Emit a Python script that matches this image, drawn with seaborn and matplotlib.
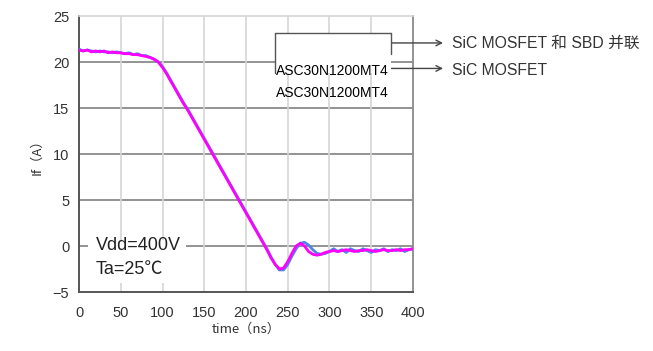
import matplotlib.pyplot as plt
import pandas as pd
import seaborn as sns
from matplotlib.patches import Rectangle

sns.set_style('white')
plt.rcParams['font.family'] = ['Liberation Sans', 'Noto Sans CJK SC', 'DejaVu Sans']

time_ns = list(range(0, 405, 5))

# SiC MOSFET + SBD in parallel (blue)
if_blue = [21.4, 21.2, 21.3, 21.2, 21.1, 21.2, 21.1, 21.1, 21.0, 21.1, 21.0, 20.9,
           21.0, 20.8, 20.9, 20.7, 20.7, 20.5, 20.3, 20.0, 19.5, 18.8, 18.0, 17.2,
           16.4, 15.6, 14.9, 14.1, 13.3, 12.5, 11.7, 10.9, 10.1, 9.3, 8.5, 7.7,
           6.9, 6.1, 5.3, 4.5, 3.7, 2.9, 2.1, 1.3, 0.5, -0.3, -1.2, -2.0,
           -2.6, -2.6, -2.0, -1.1, -0.3, 0.3, 0.4, 0.1, -0.4, -0.8, -0.9, -0.8,
           -0.6, -0.3, -0.6, -0.4, -0.7, -0.3, -0.5, -0.6, -0.3, -0.5, -0.7, -0.4,
           -0.5, -0.3, -0.6, -0.4, -0.5, -0.3, -0.6, -0.4, -0.3]

# SiC MOSFET only (magenta)
if_magenta = [21.3, 21.2, 21.3, 21.1, 21.2, 21.1, 21.2, 21.0, 21.1, 21.0, 21.0, 20.9,
              20.9, 20.8, 20.8, 20.7, 20.6, 20.5, 20.3, 20.0, 19.4, 18.7, 17.9, 17.1,
              16.3, 15.5, 14.8, 14.0, 13.2, 12.4, 11.6, 10.8, 10.0, 9.2, 8.4, 7.6,
              6.8, 6.0, 5.2, 4.4, 3.6, 2.8, 2.0, 1.2, 0.4, -0.4, -1.3, -2.0,
              -2.5, -2.4, -1.7, -0.8, 0.0, 0.3, 0.0, -0.6, -0.9, -1.0, -0.9, -0.7,
              -0.6, -0.5, -0.6, -0.5, -0.4, -0.5, -0.6, -0.5, -0.5, -0.4, -0.5, -0.6,
              -0.5, -0.4, -0.5, -0.5, -0.4, -0.5, -0.4, -0.4, -0.3]

x_ticks = [0, 50, 100, 150, 200, 250, 300, 350, 400]
y_ticks = [-5, 0, 5, 10, 15, 20, 25]

df = pd.DataFrame({'time': time_ns, 'blue': if_blue, 'magenta': if_magenta})

fig = plt.figure(figsize=(6.53, 3.51), dpi=100)
ax = fig.add_axes([79 / 653, 1 - 292 / 351, 334 / 653, 276 / 351])

# grid: dark horizontal, light vertical
for y in [0, 5, 10, 15, 20]:
    ax.axhline(y, color='#8a8a8a', lw=1.3, zorder=1)
for x in [50, 100, 150, 200, 250, 300, 350]:
    ax.axvline(x, color='#d6d6d6', lw=1.2, zorder=1)

sns.lineplot(data=df, x='time', y='blue', color='#4a86e8', lw=2.0, ax=ax, zorder=3)
sns.lineplot(data=df, x='time', y='magenta', color='#ff00ff', lw=2.0, ax=ax, zorder=4)

ax.set_xlim(0, 400)
ax.set_ylim(-5, 25)
ax.set_xticks(x_ticks)
ax.set_yticks(y_ticks)
ax.tick_params(axis='both', direction='in', length=3, color='#777777',
               labelsize=10.5, labelcolor='#333333')
ax.tick_params(axis='x', pad=10)
ax.tick_params(axis='y', pad=7)
ax.set_xlabel('time（ns）', fontsize=9.5, color='#333333',
              family=['Noto Sans CJK JP', 'DejaVu Sans'], labelpad=2)
ax.set_ylabel('If（A）', fontsize=9.5, color='#333333',
              family=['Noto Sans CJK JP', 'DejaVu Sans'], labelpad=7)

for side in ['left', 'bottom']:
    ax.spines[side].set_color('#555555')
    ax.spines[side].set_linewidth(1.4)
ax.spines['right'].set_color('#8a8a8a')
ax.spines['right'].set_linewidth(1.3)
ax.spines['top'].set_color('#d6d6d6')
ax.spines['top'].set_linewidth(1.2)

# condition text on a white patch that hides the grid behind it
ax.add_patch(Rectangle((10.8, -4.0), 117, 4.65, facecolor='white',
                       edgecolor='none', zorder=2))
ax.text(20, 0, 'Vdd=400V', fontsize=13, color='#222222', va='center', zorder=5)
ax.text(20, -2.5, 'Ta=25℃', fontsize=13, color='#222222', va='center', zorder=5,
        family=['Liberation Sans', 'Noto Sans CJK SC'])

# legend-like box
ax.add_patch(Rectangle((234.7, 18.8), 139, 4.35, facecolor='white',
                       edgecolor='none', zorder=5))
lc = '#555555'
ax.plot([234.7, 373.7], [23.15, 23.15], color=lc, lw=1, zorder=6)
ax.plot([234.7, 234.7], [23.15, 18.8], color=lc, lw=1, zorder=6)
ax.plot([373.7, 373.7], [23.15, 20.87], color=lc, lw=1, zorder=6)
ax.text(304, 19.0, 'ASC30N1200MT4', fontsize=10, color='black',
        ha='center', va='center', zorder=7)
ax.text(304, 16.65, 'ASC30N1200MT4', fontsize=10, color='black',
        ha='center', va='center', zorder=7)

ax.annotate('', xy=(436, 22.07), xytext=(373.7, 22.07), xycoords='data',
            annotation_clip=False,
            arrowprops=dict(arrowstyle='->', color='#444444', lw=1, shrinkA=0, shrinkB=0))
ax.annotate('', xy=(436, 19.3), xytext=(371, 19.3), xycoords='data',
            annotation_clip=False,
            arrowprops=dict(arrowstyle='->', color='#444444', lw=1, shrinkA=0, shrinkB=0))
ax.text(447, 22.07, 'SiC MOSFET 和 SBD 并联', fontsize=11.3, color='#333333',
        va='center', clip_on=False)
ax.text(447, 19.1, 'SiC MOSFET', fontsize=11.3, color='#333333',
        va='center', clip_on=False)

fig.savefig('out.png', dpi=100)
